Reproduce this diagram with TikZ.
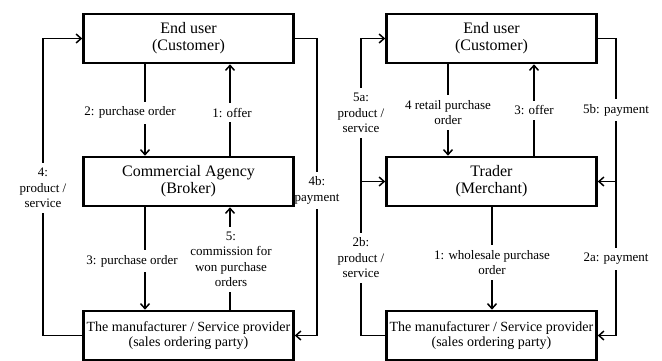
\documentclass[tikz,border=0pt]{standalone}
\usepackage{fontspec}
\setmainfont{Liberation Serif}
\usetikzlibrary{arrows.meta}
\pgfdeclarelayer{background}
\pgfsetlayers{background,main}

\tikzset{
  party/.style={draw=black, line width=2.6pt, fill=white, minimum width=210pt,
    minimum height=49pt, inner sep=0pt, align=center,
    font=\fontsize{16}{17}\selectfont},
  maker/.style={party, font=\fontsize{14}{15}\selectfont},
  conn/.style={line width=1.5pt, draw=black},
  tip/.style={-{Straight Barb[length=5pt,width=9pt,line width=1.5pt]}},
  lbl/.style={fill=white, inner xsep=0.5pt, inner ysep=5pt, align=center,
    font=\fontsize{13}{15.5}\selectfont},
}

\begin{document}
\begin{tikzpicture}[x=1pt, y=-1pt]
  \clip (0,0) rectangle (662,360);
  \useasboundingbox (0,0) rectangle (662,360);

  % ---------- broker model ----------
  \node[party] (eu)  at (188.5,38.5)  {End user\\(Customer)};
  \node[party] (ag)  at (188.5,181.5) {Commercial Agency\\(Broker)};
  \node[maker] (man) at (188.5,335.5) {The manufacturer / Service provider\\(sales ordering party)};

  % ---------- trader model ----------
  \node[party] (eu2)  at (491.5,38.5)  {End user\\(Customer)};
  \node[party] (tr)   at (491.5,181.5) {Trader\\(Merchant)};
  \node[maker] (man2) at (491.5,335.5) {The manufacturer / Service provider\\(sales ordering party)};

  % guide columns for the flows
  \coordinate (xa) at (145,0);
  \coordinate (xb) at (230,0);
  \coordinate (xc) at (448,0);
  \coordinate (xd) at (534,0);
  \coordinate (xe) at (492,0);

  \coordinate (c4)  at (43,188);
  \coordinate (c4b) at (317,190.5);
  \coordinate (c5a) at (361,113);
  \coordinate (c2b) at (361,258);
  \coordinate (c5b) at (616,110);
  \coordinate (c2a) at (616,259);

  \begin{pgfonlayer}{background}
    % broker flows
    \draw[conn,tip] (eu.south -| xa) -- node[lbl,pos=0.53,xshift=-15pt] (l2) {2: purchase order} (ag.north -| xa);
    \draw[conn,tip] (ag.north -| xb) -- node[lbl,pos=0.47,xshift=2pt] (l1) {1: offer} (eu.south -| xb);
    \draw[conn,tip] (ag.south -| xa) -- node[lbl,pos=0.525,xshift=-13pt] (l3) {3: purchase order} (man.north -| xa);
    \draw[conn,tip] (man.north -| xb) -- node[lbl,pos=0.49,xshift=1pt] (l5) {5:\\commission for\\won purchase\\orders} (ag.south -| xb);
    \draw[conn,tip] (man.west) -| (c4) |- (eu.west);
    \node[lbl] (l4) at (c4) {4:\\product /\\service};
    \draw[conn,tip] (eu.east) -| (c4b) |- (man.east);
    \node[lbl] (l4b) at (c4b) {4b:\\payment};

    % trader flows
    \draw[conn,tip] (eu2.south -| xc) -- node[lbl,pos=0.53] (r4) {4 retail purchase\\order} (tr.north -| xc);
    \draw[conn,tip] (tr.north -| xd) -- node[lbl,pos=0.495] (r3) {3: offer} (eu2.south -| xd);
    \draw[conn,tip] (tr.south -| xe) -- node[lbl,pos=0.54] (r1) {1: wholesale purchase\\order} (man2.north -| xe);
    \draw[conn,tip] (man2.west) -| (c2b) |- (tr.west);
    \draw[conn,tip] (c2b |- tr.west) -- (c5a) |- (eu2.west);
    \node[lbl] (r2b) at (c2b) {2b:\\product /\\service};
    \node[lbl] (r5a) at (c5a) {5a:\\product /\\service};
    \draw[conn,tip] (eu2.east) -| (c5b) |- (tr.east);
    \draw[conn,tip] (c5b |- tr.east) -- (c2a) |- (man2.east);
    \node[lbl] (r5b) at (c5b) {5b: payment};
    \node[lbl] (r2a) at (c2a) {2a: payment};
  \end{pgfonlayer}
\end{tikzpicture}
\end{document}
